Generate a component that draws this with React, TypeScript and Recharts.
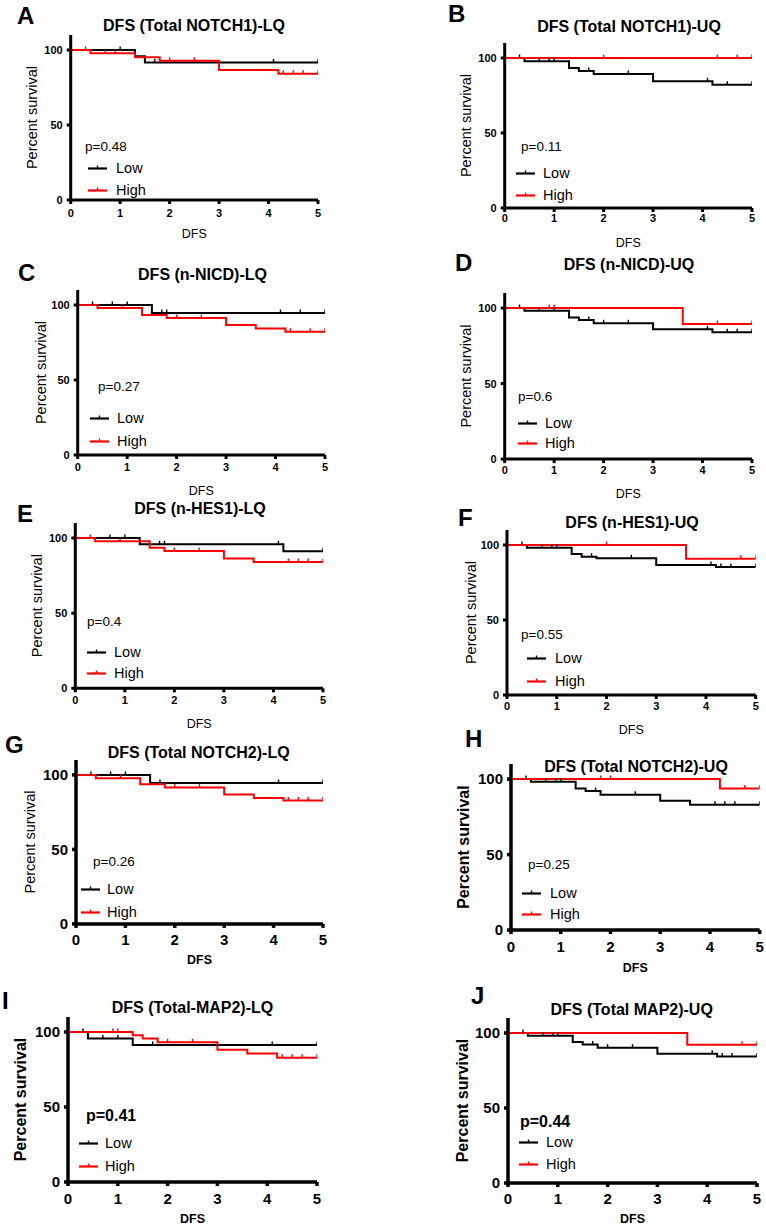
import React from 'react';
import { LineChart, Line, XAxis, YAxis, Legend } from 'recharts';

type Pt = [number, number, number]; // [time (years), percent survival, censored flag]

const X_TICKS = [0, 1, 2, 3, 4, 5];
const Y_TICKS = [0, 50, 100];
const SERIES_NAMES = ['Low', 'High'];

const A_low: Pt[] = [[0,100,0],[1.0,100,1],[1.3,95.8,0],[1.5,91.7,0],[1.7,91.7,1],[4.1,91.7,1],[5,91.7,1]];
const A_high: Pt[] = [[0,100,0],[0.3,100,1],[0.4,97.8,0],[0.7,97.8,1],[0.9,97.8,1],[1.3,95.2,0],[1.8,92.9,0],[2.0,92.9,1],[2.5,92.9,1],[3.0,86.7,0],[4.2,84.2,0],[4.3,84.2,1],[4.5,84.2,1],[4.7,84.2,1],[5,84.2,1]];

const B_low: Pt[] = [[0,100,0],[0.3,100,1],[0.4,97.8,0],[0.7,97.8,1],[0.9,97.8,1],[1.0,97.8,1],[1.3,93.3,0],[1.5,91.3,0],[1.7,91.3,1],[1.8,89.3,0],[2.5,89.3,1],[3.0,84.5,0],[4.1,84.5,1],[4.2,82.2,0],[4.5,82.2,1],[5,82.2,1]];
const B_high: Pt[] = [[0,100,0],[2.0,100,1],[4.3,100,1],[4.7,100,1],[5,100,1]];

const C_low: Pt[] = [[0,100,0],[0.3,100,1],[0.7,100,1],[1.0,100,1],[1.5,94.7,0],[1.7,94.7,1],[1.8,94.7,1],[4.1,94.7,1],[4.5,94.7,1],[5,94.7,1]];
const C_high: Pt[] = [[0,100,0],[0.4,98,0],[0.9,98,1],[1.3,93.3,0],[1.8,91.3,0],[2.0,91.3,1],[2.5,91.3,1],[3.0,86.7,0],[3.6,84.4,0],[4.2,82.2,0],[4.3,82.2,1],[4.7,82.2,1],[5,82.2,1]];

const D_low: Pt[] = [[0,100,0],[0.3,100,1],[0.4,98.2,0],[0.7,98.2,1],[1.0,98.2,1],[1.3,93.8,0],[1.5,92.2,0],[1.7,92.2,1],[1.8,90,0],[2.0,90,1],[2.5,90,1],[3.0,86,0],[4.1,86,1],[4.2,84,0],[4.5,84,1],[4.7,84,1],[5,84,1]];
const D_high: Pt[] = [[0,100,0],[0.9,100,1],[1.0,100,1],[3.6,89.4,0],[4.3,89.4,1],[5,89.4,1]];

const E_low: Pt[] = [[0,100,0],[0.7,100,1],[1.0,100,1],[1.3,95.8,0],[1.7,95.8,1],[1.8,95.8,1],[4.1,95.8,1],[4.2,91.2,0],[5,91.2,1]];
const E_high: Pt[] = [[0,100,0],[0.3,100,1],[0.4,97.9,0],[0.9,97.9,1],[1.5,93.6,0],[1.8,91.4,0],[2.0,91.4,1],[2.5,91.4,1],[3.0,86.4,0],[3.6,84.1,0],[4.3,84.1,1],[4.5,84.1,1],[4.7,84.1,1],[5,84.1,1]];

const F_low: Pt[] = [[0,100,0],[0.3,100,1],[0.4,98.2,0],[0.7,98.2,1],[0.9,98.2,1],[1.0,98.2,1],[1.3,94,0],[1.5,92.2,0],[1.7,92.2,1],[1.8,91.1,0],[2.5,91.1,1],[3.0,86.7,0],[4.1,86.7,1],[4.2,85.3,0],[4.3,85.3,1],[4.5,85.3,1],[5,85.3,1]];
const F_high: Pt[] = [[0,100,0],[2.0,100,1],[3.6,90.8,0],[4.7,90.8,1],[5,90.8,1]];

const G_low: Pt[] = [[0,100,0],[0.3,100,1],[0.7,100,1],[1.0,100,1],[1.5,94.6,0],[1.7,94.6,1],[4.1,94.6,1],[5,94.6,1]];
const G_high: Pt[] = [[0,100,0],[0.4,97.8,0],[0.9,97.8,1],[1.3,93.8,0],[1.8,91.5,0],[2.0,91.5,1],[2.5,91.5,1],[3.0,86.8,0],[3.6,84.5,0],[4.2,82.8,0],[4.3,82.8,1],[4.5,82.8,1],[4.7,82.8,1],[5,82.8,1]];

const H_low: Pt[] = [[0,100,0],[0.3,100,1],[0.4,98.2,0],[0.7,98.2,1],[0.9,98.2,1],[1.0,98.2,1],[1.3,93.8,0],[1.5,92.2,0],[1.7,92.2,1],[1.8,89.6,0],[2.5,89.6,1],[3.0,85.6,0],[3.6,83,0],[4.1,83,1],[4.3,83,1],[4.5,83,1],[5,83,1]];
const H_high: Pt[] = [[0,100,0],[1.8,100,1],[2.0,100,1],[4.2,93.8,0],[4.7,93.8,1],[5,93.8,1]];

const I_low: Pt[] = [[0,100,0],[0.3,100,1],[0.4,95.6,0],[0.7,95.6,1],[1.0,95.6,1],[1.3,91.4,0],[1.7,91.4,1],[4.1,91.4,1],[5,91.4,1]];
const I_high: Pt[] = [[0,100,0],[0.9,100,1],[1.0,100,1],[1.3,97.8,0],[1.5,95.6,0],[1.8,93.1,0],[2.0,93.1,1],[2.5,93.1,1],[3.0,88.1,0],[3.6,85.6,0],[4.2,82.9,0],[4.3,82.9,1],[4.5,82.9,1],[4.7,82.9,1],[5,82.9,1]];

const J_low: Pt[] = [[0,100,0],[0.3,100,1],[0.4,98.2,0],[0.7,98.2,1],[0.9,98.2,1],[1.0,98.2,1],[1.3,94,0],[1.5,92.3,0],[1.7,92.3,1],[1.8,90.2,0],[2.0,90.2,1],[2.5,90.2,1],[3.0,86.1,0],[4.1,86.1,1],[4.2,84.3,0],[4.3,84.3,1],[4.5,84.3,1],[5,84.3,1]];
const J_high: Pt[] = [[0,100,0],[3.6,92.2,0],[4.7,92.2,1],[5,92.2,1]];

const P_VALUES = ['p=0.48', 'p=0.11', 'p=0.27', 'p=0.6', 'p=0.4', 'p=0.55', 'p=0.26', 'p=0.25', 'p=0.41', 'p=0.44'];
const TITLES = [
  'DFS (Total NOTCH1)-LQ', 'DFS (Total NOTCH1)-UQ',
  'DFS (n-NICD)-LQ', 'DFS (n-NICD)-UQ',
  'DFS (n-HES1)-LQ', 'DFS (n-HES1)-UQ',
  'DFS (Total NOTCH2)-LQ', 'DFS (Total NOTCH2)-UQ',
  'DFS (Total-MAP2)-LQ', 'DFS (Total MAP2)-UQ',
];
const LETTERS = ['A', 'B', 'C', 'D', 'E', 'F', 'G', 'H', 'I', 'J'];
const LOW_SERIES = [A_low, B_low, C_low, D_low, E_low, F_low, G_low, H_low, I_low, J_low];
const HIGH_SERIES = [A_high, B_high, C_high, D_high, E_high, F_high, G_high, H_high, I_high, J_high];

// layout (pixel geometry of each panel)
type Layout = {
  cellLeft: number; x0: number; x5: number; y100: number; y0: number;
  letterX: number; letterY: number; titleX: number; titleY: number;
  ylabX: number; ylabFs: number; ylabBold: boolean;
  tickFs: number; xTickY: number; dfsY: number; dfsBold: boolean;
  pX: number; pY: number; pFs: number; pBold: boolean;
  legX: number; legTextX: number; lowY: number; highY: number; axisW: number;
};

const LAYOUTS: Layout[] = [
  { cellLeft: 0, x0: 70.7, x5: 318, y100: 50, y0: 200, letterX: 17, letterY: 16, titleX: 194, titleY: 26, ylabX: 32, ylabFs: 14.5, ylabBold: false, tickFs: 11, xTickY: 213, dfsY: 233, dfsBold: false, pX: 85, pY: 147, pFs: 13.5, pBold: false, legX: 88, legTextX: 116, lowY: 168, highY: 190, axisW: 3 },
  { cellLeft: 383, x0: 504.7, x5: 752, y100: 58, y0: 208, letterX: 448, letterY: 14, titleX: 629, titleY: 27, ylabX: 466, ylabFs: 14.5, ylabBold: false, tickFs: 11, xTickY: 218, dfsY: 242, dfsBold: false, pX: 521, pY: 147, pFs: 13.5, pBold: false, legX: 516, legTextX: 543, lowY: 173, highY: 195, axisW: 3 },
  { cellLeft: 0, x0: 77.7, x5: 325, y100: 305, y0: 455, letterX: 18, letterY: 273, titleX: 202.5, titleY: 275, ylabX: 41, ylabFs: 14.5, ylabBold: false, tickFs: 11, xTickY: 467, dfsY: 490, dfsBold: false, pX: 98, pY: 387, pFs: 13.5, pBold: false, legX: 90, legTextX: 117, lowY: 418, highY: 441, axisW: 3 },
  { cellLeft: 383, x0: 504.7, x5: 752, y100: 308, y0: 459, letterX: 455, letterY: 263, titleX: 629, titleY: 265, ylabX: 466, ylabFs: 14.5, ylabBold: false, tickFs: 11, xTickY: 470, dfsY: 493, dfsBold: false, pX: 518, pY: 397, pFs: 13.5, pBold: false, legX: 518, legTextX: 545, lowY: 423, highY: 443, axisW: 3 },
  { cellLeft: 0, x0: 75.3, x5: 323, y100: 537.7, y0: 688, letterX: 17, letterY: 514, titleX: 200, titleY: 509, ylabX: 37, ylabFs: 14.5, ylabBold: false, tickFs: 11, xTickY: 700, dfsY: 723, dfsBold: false, pX: 87, pY: 622, pFs: 13.5, pBold: false, legX: 87, legTextX: 114, lowY: 652, highY: 673, axisW: 3 },
  { cellLeft: 383, x0: 507, x5: 755.7, y100: 545, y0: 695, letterX: 458, letterY: 518, titleX: 632, titleY: 523, ylabX: 471, ylabFs: 14.5, ylabBold: false, tickFs: 11, xTickY: 706, dfsY: 729, dfsBold: false, pX: 521, pY: 635, pFs: 13.5, pBold: false, legX: 527, legTextX: 555, lowY: 658, highY: 681, axisW: 3 },
  { cellLeft: 0, x0: 76, x5: 323, y100: 775, y0: 924, letterX: 5, letterY: 745, titleX: 198.7, titleY: 753, ylabX: 30, ylabFs: 14.5, ylabBold: false, tickFs: 15, xTickY: 940, dfsY: 960, dfsBold: true, pX: 93, pY: 862, pFs: 13.5, pBold: false, legX: 81, legTextX: 107, lowY: 889, highY: 912, axisW: 3.5 },
  { cellLeft: 383, x0: 511, x5: 759.7, y100: 779, y0: 930, letterX: 465, letterY: 739, titleX: 636, titleY: 767, ylabX: 463, ylabFs: 16, ylabBold: true, tickFs: 15, xTickY: 947, dfsY: 967, dfsBold: true, pX: 528, pY: 865, pFs: 13.5, pBold: false, legX: 522, legTextX: 550, lowY: 893, highY: 914, axisW: 3.5 },
  { cellLeft: 0, x0: 68, x5: 317, y100: 1032, y0: 1182, letterX: 2, letterY: 1001, titleX: 192.5, titleY: 1008, ylabX: 20, ylabFs: 16, ylabBold: true, tickFs: 15, xTickY: 1199, dfsY: 1218, dfsBold: true, pX: 86, pY: 1116, pFs: 16, pBold: true, legX: 79, legTextX: 105, lowY: 1143, highY: 1166, axisW: 3.5 },
  { cellLeft: 383, x0: 508, x5: 757, y100: 1033, y0: 1183, letterX: 471, letterY: 996, titleX: 631.7, titleY: 1010, ylabX: 462, ylabFs: 16, ylabBold: true, tickFs: 15, xTickY: 1199, dfsY: 1218, dfsBold: true, pX: 520, pY: 1122, pFs: 16, pBold: true, legX: 519, legTextX: 546, lowY: 1142, highY: 1164, axisW: 3.5 },
];

const FONT = '"Liberation Sans", Arial, Helvetica, sans-serif';
const RED = '#ff0000';
const BLACK = '#000000';
const SERIES_COLORS = [BLACK, RED];

const toRows = (pts: Pt[]) => pts.map(([t, s, c]) => ({ t, s, c }));

const censorDot = (color: string) => (props: any) => {
  const { cx, cy, payload, index } = props;
  if (!payload || !payload.c || cx == null || cy == null) return <g key={`e${index}`} />;
  return <line key={`c${index}`} x1={cx} x2={cx} y1={cy} y2={cy - 3.5} stroke={color} strokeWidth={1.4} />;
};

function LegendBox({ textOffset, gap }: any) {
  return (
    <div style={{ position: 'relative', width: 90, height: gap + 20, fontFamily: FONT }}>
      {SERIES_NAMES.map((name, i) => (
        <div key={name} style={{ position: 'absolute', left: 0, top: i * gap, height: 20, width: 90 }}>
          <svg width={20} height={20} style={{ position: 'absolute', left: 0, top: 0 }}>
            <line x1={0} x2={19} y1={10.5} y2={10.5} stroke={SERIES_COLORS[i]} strokeWidth={2.2} />
            <line x1={9.5} x2={9.5} y1={10.5} y2={7.5} stroke={SERIES_COLORS[i]} strokeWidth={1.4} />
          </svg>
          <span style={{ position: 'absolute', left: textOffset, top: 0, lineHeight: '20px', fontSize: 14.5, color: '#000', whiteSpace: 'nowrap' }}>{name}</span>
        </div>
      ))}
    </div>
  );
}

function Panel({ i }: { i: number }) {
  const L = LAYOUTS[i];
  const plotTop = L.y0 - 1.1 * (L.y0 - L.y100);
  const mTop = 10;
  const chartTop = plotTop - mTop;
  const mLeft = 2;
  const yAxisW = L.x0 - L.cellLeft - mLeft;
  const mRight = L.cellLeft + 383 - L.x5;
  const xAxisH = L.dfsY + 12.5 * 0.36 - L.y0;
  const mBottom = 6;
  const H = L.y0 + xAxisH + mBottom - chartTop;
  const xTickMargin = L.xTickY - L.y0 - 4 - 0.355 * L.tickFs;
  const gap = L.highY - L.lowY;
  const low = toRows(LOW_SERIES[i]);
  const high = toRows(HIGH_SERIES[i]);

  return (
    <>
      <div style={{ position: 'absolute', left: L.letterX, top: L.letterY - 0.49 * 24, fontSize: 24, lineHeight: 1, fontWeight: 'bold', fontFamily: FONT }}>{LETTERS[i]}</div>
      <div style={{ position: 'absolute', left: L.titleX - 150, width: 300, top: L.titleY - 0.49 * 16, fontSize: 16, lineHeight: 1, fontWeight: 'bold', textAlign: 'center', fontFamily: FONT, zIndex: 2 }}>{TITLES[i]}</div>
      <div style={{ position: 'absolute', left: L.cellLeft, top: chartTop }}>
        <LineChart width={383} height={H} margin={{ top: mTop, right: mRight, bottom: mBottom, left: mLeft }} style={{ fontFamily: FONT }}>
          <XAxis
            type="number" dataKey="t" domain={[0, 5]} ticks={X_TICKS} allowDataOverflow
            height={xAxisH} tickSize={4} tickMargin={xTickMargin}
            axisLine={{ stroke: BLACK, strokeWidth: L.axisW }} tickLine={{ stroke: BLACK, strokeWidth: L.axisW }}
            tick={{ fill: BLACK, fontSize: L.tickFs, fontWeight: 'bold', fontFamily: FONT }}
            label={{ value: 'DFS', position: 'insideBottom', offset: 0, fill: BLACK, fontSize: 12.5, fontWeight: L.dfsBold ? 'bold' : 'normal', fontFamily: FONT }}
          />
          <YAxis
            type="number" domain={[0, 110]} ticks={Y_TICKS} allowDataOverflow
            width={yAxisW} tickSize={4} tickMargin={4}
            axisLine={{ stroke: BLACK, strokeWidth: L.axisW }} tickLine={{ stroke: BLACK, strokeWidth: L.axisW }}
            tick={{ fill: BLACK, fontSize: L.tickFs, fontWeight: 'bold', fontFamily: FONT }}
            label={{ value: 'Percent survival', angle: -90, position: 'insideLeft', offset: L.ylabX - L.cellLeft - mLeft, style: { textAnchor: 'middle' }, fill: BLACK, fontSize: L.ylabFs, fontWeight: L.ylabBold ? 'bold' : 'normal', fontFamily: FONT }}
          />
          <Line data={low} dataKey="s" name={SERIES_NAMES[0]} type="stepAfter" stroke={BLACK} strokeWidth={2} dot={censorDot(BLACK)} activeDot={false} isAnimationActive={false} />
          <Line data={high} dataKey="s" name={SERIES_NAMES[1]} type="stepAfter" stroke={RED} strokeWidth={2} dot={censorDot(RED)} activeDot={false} isAnimationActive={false} />
          <Legend
            layout="horizontal" verticalAlign="middle" align="center"
            wrapperStyle={{ position: 'absolute', left: L.legX - L.cellLeft, top: L.lowY - chartTop - 10, width: 90, height: gap + 20 }}
            content={() => <LegendBox textOffset={L.legTextX - L.legX} gap={gap} />}
          />
        </LineChart>
      </div>
      <div style={{ position: 'absolute', left: L.pX, top: L.pY - 0.5 * L.pFs, fontSize: L.pFs, lineHeight: 1, fontWeight: L.pBold ? 'bold' : 'normal', fontFamily: FONT }}>{P_VALUES[i]}</div>
    </>
  );
}

export default function App() {
  return (
    <div style={{ position: 'absolute', left: 0, top: 0, width: 766, height: 1230, background: '#fff', fontFamily: FONT, color: '#000', overflow: 'hidden' }}>
      {LAYOUTS.map((_, i) => <Panel key={i} i={i} />)}
    </div>
  );
}
